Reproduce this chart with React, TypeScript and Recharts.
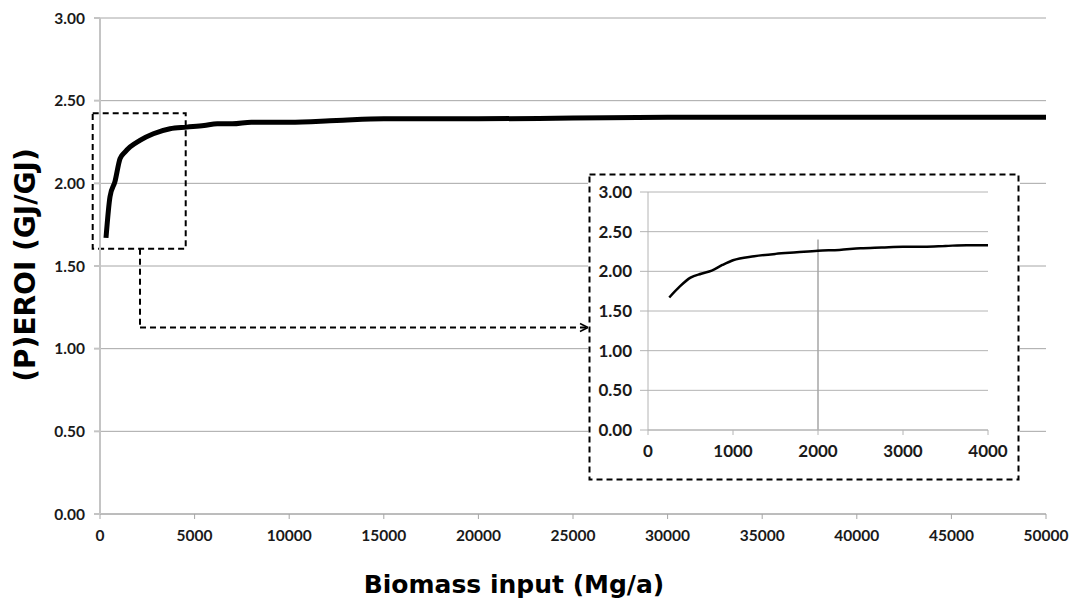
import React from 'react';
import { LineChart, Line, XAxis, YAxis, CartesianGrid, ReferenceArea, ReferenceLine, Label } from 'recharts';

// main curve
const biomassInput = [317, 530, 790, 1060, 1330, 1590, 2110, 2820, 3700, 4580, 5500, 6200, 7000, 8000, 10000, 12500, 15000, 20000, 25000, 30000, 40000, 50000];
const peroi = [1.67, 1.92, 2.01, 2.15, 2.19, 2.22, 2.26, 2.30, 2.33, 2.34, 2.35, 2.36, 2.36, 2.37, 2.37, 2.38, 2.39, 2.39, 2.395, 2.40, 2.40, 2.40];

// zoomed inset
const insetInput = [250, 375, 500, 625, 750, 875, 1000, 1250, 1500, 1750, 2000, 2250, 2500, 2750, 3000, 3250, 3500, 3750, 4000];
const insetPeroi = [1.67, 1.81, 1.92, 1.97, 2.01, 2.08, 2.14, 2.19, 2.22, 2.24, 2.26, 2.27, 2.29, 2.30, 2.31, 2.31, 2.32, 2.33, 2.33];

const mainXTicks = [0, 5000, 10000, 15000, 20000, 25000, 30000, 35000, 40000, 45000, 50000];
const insetXTicks = [0, 1000, 2000, 3000, 4000];
const yTicks = [0, 0.5, 1, 1.5, 2, 2.5, 3];

const xTitle = 'Biomass input (Mg/a)';
const yTitle = '(P)EROI (GJ/GJ)';

const mainData = biomassInput.map((x, i) => ({ x, y: peroi[i] }));
const insetData = insetInput.map((x, i) => ({ x, y: insetPeroi[i] }));

const tickFont = { fontFamily: 'Lato', fontWeight: 700, fill: '#1a1a1a' };
const dash = '6 4';

const XTitle = ({ viewBox }: any) => {
  const { x, y, width } = viewBox;
  return (
    <text x={x + width / 2 - 59} y={y + 79} textAnchor="middle"
      style={{ fontFamily: 'DejaVu Sans', fontWeight: 700, fontSize: 25, fill: '#000' }}>
      {xTitle}
    </text>
  );
};

const YTitle = ({ viewBox }: any) => {
  const { x, y, height } = viewBox;
  const cx = x + 25;
  const cy = y + height / 2 - 1;
  return (
    <text x={cx} y={cy} textAnchor="middle" dominantBaseline="central" transform={`rotate(-90 ${cx} ${cy})`}
      style={{ fontFamily: 'DejaVu Sans', fontWeight: 700, fontSize: 28, fill: '#000' }}>
      {yTitle}
    </text>
  );
};

const App: React.FC = () => {
  return (
    <div style={{ position: 'absolute', left: 0, top: 0, width: 1072, height: 601, background: '#fff', fontFamily: 'Lato' }}>
      <LineChart width={1072} height={601} data={mainData} margin={{ top: 18, right: 26, left: 0, bottom: 0 }}>
        <CartesianGrid horizontal vertical={false} stroke="#a6a6a6" />
        <XAxis dataKey="x" type="number" domain={[0, 50000]} ticks={mainXTicks} height={87}
          stroke="#a6a6a6" tickSize={5} tickMargin={11} tick={{ ...tickFont, fontSize: 15.5 }} allowDataOverflow>
          <Label content={<XTitle />} />
        </XAxis>
        <YAxis type="number" domain={[0, 3]} ticks={yTicks} width={100} stroke="#c4c4c4" strokeWidth={2}
          tickSize={6} tickMargin={9} tick={{ ...tickFont, fontSize: 15.5 }} tickFormatter={(v: number) => v.toFixed(2)}>
          <Label content={<YTitle />} />
        </YAxis>
        <ReferenceArea x1={-386} x2={4530} y1={1.605} y2={2.424} ifOverflow="visible"
          fill="none" fillOpacity={0} stroke="#000" strokeWidth={2} strokeDasharray={dash} />
        <ReferenceLine segment={[{ x: 2114, y: 1.605 }, { x: 2114, y: 1.128 }]} ifOverflow="visible"
          stroke="#000" strokeWidth={2} strokeDasharray={dash} />
        <ReferenceLine segment={[{ x: 2114, y: 1.128 }, { x: 25740, y: 1.128 }]} ifOverflow="visible"
          stroke="#000" strokeWidth={2} strokeDasharray={dash} />
        <ReferenceLine segment={[{ x: 25370, y: 1.152 }, { x: 25790, y: 1.128 }]} ifOverflow="visible"
          stroke="#000" strokeWidth={1.5} />
        <ReferenceLine segment={[{ x: 25370, y: 1.104 }, { x: 25790, y: 1.128 }]} ifOverflow="visible"
          stroke="#000" strokeWidth={1.5} />
        <Line type="monotone" dataKey="y" stroke="#000" strokeWidth={5} dot={false} isAnimationActive={false} />
      </LineChart>

      <div style={{ position: 'absolute', left: 588, top: 173, width: 432, height: 308, background: '#fff' }}>
        <LineChart width={432} height={308} data={insetData} margin={{ top: 19, right: 32, left: 0, bottom: 0 }}>
          <CartesianGrid horizontal vertical={false} stroke="#b4b4b4" />
          <XAxis dataKey="x" type="number" domain={[0, 4000]} ticks={insetXTicks} height={51}
            stroke="#b4b4b4" tickSize={5} tickMargin={10} tick={{ ...tickFont, fontSize: 17 }} />
          <YAxis type="number" domain={[0, 3]} ticks={yTicks} width={60} stroke="#b4b4b4"
            tickSize={8} tickMargin={8} tick={{ ...tickFont, fontSize: 17 }} tickFormatter={(v: number) => v.toFixed(2)} />
          <ReferenceLine segment={[{ x: 2000, y: 0 }, { x: 2000, y: 2.4 }]} stroke="#a6a6a6" strokeWidth={1.5} />
          <Line type="monotone" dataKey="y" stroke="#000" strokeWidth={2.5} dot={false} isAnimationActive={false} />
        </LineChart>
        <svg width={432} height={308} style={{ position: 'absolute', left: 0, top: 0, pointerEvents: 'none' }}>
          <rect x={1.5} y={1.5} width={429} height={305} fill="none" stroke="#000" strokeWidth={2} strokeDasharray={dash} />
        </svg>
      </div>
    </div>
  );
};

export default App;
